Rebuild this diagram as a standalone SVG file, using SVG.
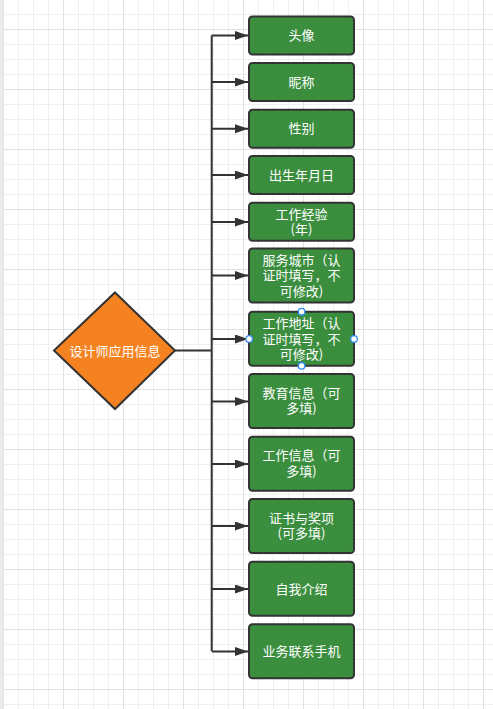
<svg xmlns="http://www.w3.org/2000/svg" width="493" height="709" viewBox="0 0 493 709">
<style>
.box{fill:#3a8e3e;stroke:#333;stroke-width:2}
.lbl{fill:#fff;font-family:"Noto Sans CJK SC","Microsoft YaHei",sans-serif;font-size:13px;text-anchor:middle}
.edge{fill:none;stroke:#333;stroke-width:2}
.handle{fill:#fff;stroke:#2f8cf0;stroke-width:1.3}
</style>
<defs>
<pattern id="minor" patternUnits="userSpaceOnUse" x="3" y="14" width="15" height="15">
<path d="M0.5 0V15M0 0.5H15" stroke="#efefef" stroke-width="1" fill="none"/>
</pattern>
<pattern id="major" patternUnits="userSpaceOnUse" x="3" y="29" width="60" height="60">
<path d="M0.5 0V60M0 0.5H60" stroke="#e2e2e2" stroke-width="1" fill="none"/>
</pattern>
<marker id="arr" markerUnits="userSpaceOnUse" markerWidth="14" markerHeight="10" refX="13" refY="4.5" orient="auto">
<path d="M0 0L13 4.5L0 9Z" fill="#333"/>
</marker>
</defs>
<rect width="493" height="709" fill="#fff"/>
<rect width="493" height="709" fill="url(#minor)"/>
<rect width="493" height="709" fill="url(#major)"/>
<rect x="0" y="0" width="3" height="709" fill="#ececec"/>

<g id="connectors">
<path class="edge" d="M175 350.5H211.7" stroke-width="3.5"/>
<path class="edge" d="M211.7 35.5V651"/>
<path class="edge" marker-end="url(#arr)" d="M211.7 35.5H248"/>
<path class="edge" marker-end="url(#arr)" d="M211.7 82H248"/>
<path class="edge" marker-end="url(#arr)" d="M211.7 128.8H248"/>
<path class="edge" marker-end="url(#arr)" d="M211.7 175H248"/>
<path class="edge" marker-end="url(#arr)" d="M211.7 222H248"/>
<path class="edge" marker-end="url(#arr)" d="M211.7 275.5H248"/>
<path class="edge" marker-end="url(#arr)" d="M211.7 339H248"/>
<path class="edge" marker-end="url(#arr)" d="M211.7 401.5H248"/>
<path class="edge" marker-end="url(#arr)" d="M211.7 464H248"/>
<path class="edge" marker-end="url(#arr)" d="M211.7 526H248"/>
<path class="edge" marker-end="url(#arr)" d="M211.7 589H248"/>
<path class="edge" marker-end="url(#arr)" d="M211.7 651.5H248"/>
</g>

<g id="root">
<path d="M115 292.5L175 350.5L115 409L54 350.5Z" fill="#f58220" stroke="#333" stroke-width="2"/>
<text class="lbl" x="115" y="355.5">设计师应用信息</text>
</g>

<g id="n1"><rect class="box" x="249" y="16.5" width="105" height="38" rx="3.5"/><text class="lbl" x="301.5" y="40">头像</text></g>
<g id="n2"><rect class="box" x="249" y="63" width="105" height="38" rx="3.5"/><text class="lbl" x="301.5" y="86.5">昵称</text></g>
<g id="n3"><rect class="box" x="249" y="109.8" width="105" height="38" rx="3.5"/><text class="lbl" x="301.5" y="133.3">性别</text></g>
<g id="n4"><rect class="box" x="249" y="156" width="105" height="38" rx="3.5"/><text class="lbl" x="301.5" y="179.5">出生年月日</text></g>
<g id="n5"><rect class="box" x="249" y="202.8" width="105" height="38" rx="3.5"/><text class="lbl" x="301.5" y="218.6">工作经验<tspan x="301.5" dy="15.7">(年)</tspan></text></g>
<g id="n6"><rect class="box" x="249" y="248.5" width="105" height="54" rx="3.5"/><text class="lbl" x="301.5" y="264.5">服务城市（认<tspan x="301.5" dy="15.8">证时填写，不</tspan><tspan x="301.5" dy="15.8">可修改)</tspan></text></g>
<g id="n7"><rect class="box" x="249" y="311.8" width="105" height="54" rx="3.5"/><text class="lbl" x="301.5" y="327.8">工作地址（认<tspan x="301.5" dy="15.8">证时填写，不</tspan><tspan x="301.5" dy="15.8">可修改)</tspan></text>
<circle class="handle" cx="301.6" cy="311.7" r="3.3"/><circle class="handle" cx="249.2" cy="339" r="3.3"/><circle class="handle" cx="354" cy="339" r="3.3"/><circle class="handle" cx="301.6" cy="365.8" r="3.3"/></g>
<g id="n8"><rect class="box" x="249" y="374" width="105" height="54" rx="3.5"/><text class="lbl" x="301.5" y="397.5">教育信息（可<tspan x="301.5" dy="15.8">多填)</tspan></text></g>
<g id="n9"><rect class="box" x="249" y="436.7" width="105" height="54" rx="3.5"/><text class="lbl" x="301.5" y="460.3">工作信息（可<tspan x="301.5" dy="15.8">多填)</tspan></text></g>
<g id="n10"><rect class="box" x="249" y="499" width="105" height="54" rx="3.5"/><text class="lbl" x="301.5" y="522.5">证书与奖项<tspan x="301.5" dy="15.8">(可多填)</tspan></text></g>
<g id="n11"><rect class="box" x="249" y="561.8" width="105" height="54" rx="3.5"/><text class="lbl" x="301.5" y="593.5">自我介绍</text></g>
<g id="n12"><rect class="box" x="249" y="624.2" width="105" height="54" rx="3.5"/><text class="lbl" x="301.5" y="656">业务联系手机</text></g>
</svg>
